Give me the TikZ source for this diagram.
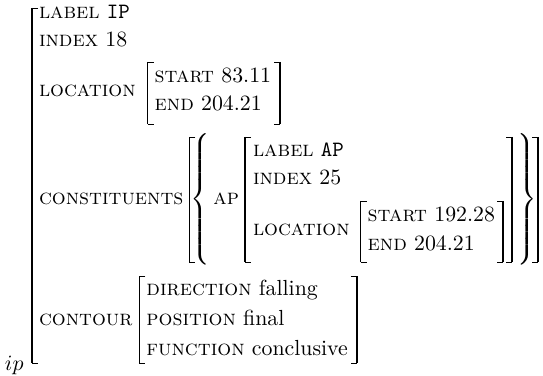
\documentclass[tikz,border=0pt]{standalone}
\usetikzlibrary{calc}
\newcommand\lbrk[3]{\begin{scope}[shift={(#1)}]\draw[serif] (6,#2) -- (0,#2); \draw[stem] (0,#2) -- (0,#3); \draw[serif] (0,#3) -- (6,#3);\end{scope}}
\newcommand\rbrk[3]{\begin{scope}[shift={(#1)}]\draw[serif] (-6,#2) -- (0,#2); \draw[stem] (0,#2) -- (0,#3); \draw[serif] (0,#3) -- (-6,#3);\end{scope}}
\newcommand\bigbrace[2]{\delimiterfactor=1000 \delimitershortfall=0pt \nulldelimiterspace=0pt $\left#1\vcenter{\hrule height 57pt width 0pt}\right#2$}
\begin{document}
\begin{tikzpicture}[x=0.458pt,y=-0.458pt,
  t/.style={anchor=base west,inner sep=0pt,outer sep=0pt},
  stem/.style={line width=0.68pt},
  serif/.style={line width=0.42pt},
  bracenode/.style={inner sep=0pt,outer sep=0pt,anchor=center}]
\useasboundingbox (0,0) rectangle (543,376);
% outer AVM
\coordinate (B0) at (32,0);
\lbrk{B0}{8}{363}
\node[t] (tag) at (5,370) {$ip$};
\node[t] (lab) at ($(B0)+(7,19)$) {\textsc{label} \texttt{IP}};
\node[t] (idx) at ($(B0)+(7,47)$) {\textsc{index} 18};
\node[t] (loc) at ($(B0)+(7,97)$) {\textsc{location}};
% location
\coordinate (B1) at ($(loc.east |- 0,0)+(12,0)$);
\lbrk{B1}{62}{124}
\node[t] (st) at ($(B1)+(7,83)$) {\textsc{start} 83.11};
\node[t] (en) at ($(B1)+(7,111)$) {\textsc{end} 204.21};
\coordinate (B1r) at ($(st.east |- 0,0)+(9,0)$);
\rbrk{B1r}{62}{124}
% constituents
\node[t] (con) at ($(B0)+(7,205)$) {\textsc{constituents}};
\coordinate (B2) at ($(con.east |- 0,0)+(6,0)$);
\lbrk{B2}{137}{262}
\node[bracenode] (lbr) at ($(B2)+(11,199.5)$) {\bigbrace{\{}{.}};
\node[t] (ap) at ($(B2)+(24,205)$) {\textsc{ap}};
\coordinate (B3) at ($(ap.east |- 0,0)+(6,0)$);
\lbrk{B3}{137}{262}
\node[t] (alab) at ($(B3)+(8,157)$) {\textsc{label} \texttt{AP}};
\node[t] (aidx) at ($(B3)+(8,185)$) {\textsc{index} 25};
\node[t] (aloc) at ($(B3)+(8,236)$) {\textsc{location}};
\coordinate (B4) at ($(aloc.east |- 0,0)+(11,0)$);
\lbrk{B4}{201}{262}
\node[t] (ast) at ($(B4)+(7,222)$) {\textsc{start} 192.28};
\node[t] (aen) at ($(B4)+(7,250)$) {\textsc{end} 204.21};
\coordinate (B4r) at ($(ast.east |- 0,0)+(8,0)$);
\rbrk{B4r}{201}{262}
\coordinate (B3r) at ($(B4r)+(9,0)$);
\rbrk{B3r}{137}{262}
\node[bracenode] (rbr) at ($(B3r)+(15,199.5)$) {\bigbrace{.}{\}}};
\coordinate (B2r) at ($(B3r)+(26,0)$);
\rbrk{B2r}{137}{262}
% contour
\node[t] (cnt) at ($(B0)+(7,325)$) {\textsc{contour}};
\coordinate (B5) at ($(cnt.east |- 0,0)+(7,0)$);
\lbrk{B5}{276}{363}
\node[t] (dir) at ($(B5)+(7,295)$) {\textsc{direction} falling};
\node[t] (pos) at ($(B5)+(7,325)$) {\textsc{position} final};
\node[t] (fun) at ($(B5)+(7,355)$) {\textsc{function} conclusive};
\coordinate (B5r) at ($(fun.east |- 0,0)+(9,0)$);
\rbrk{B5r}{276}{363}
\end{tikzpicture}
\end{document}
